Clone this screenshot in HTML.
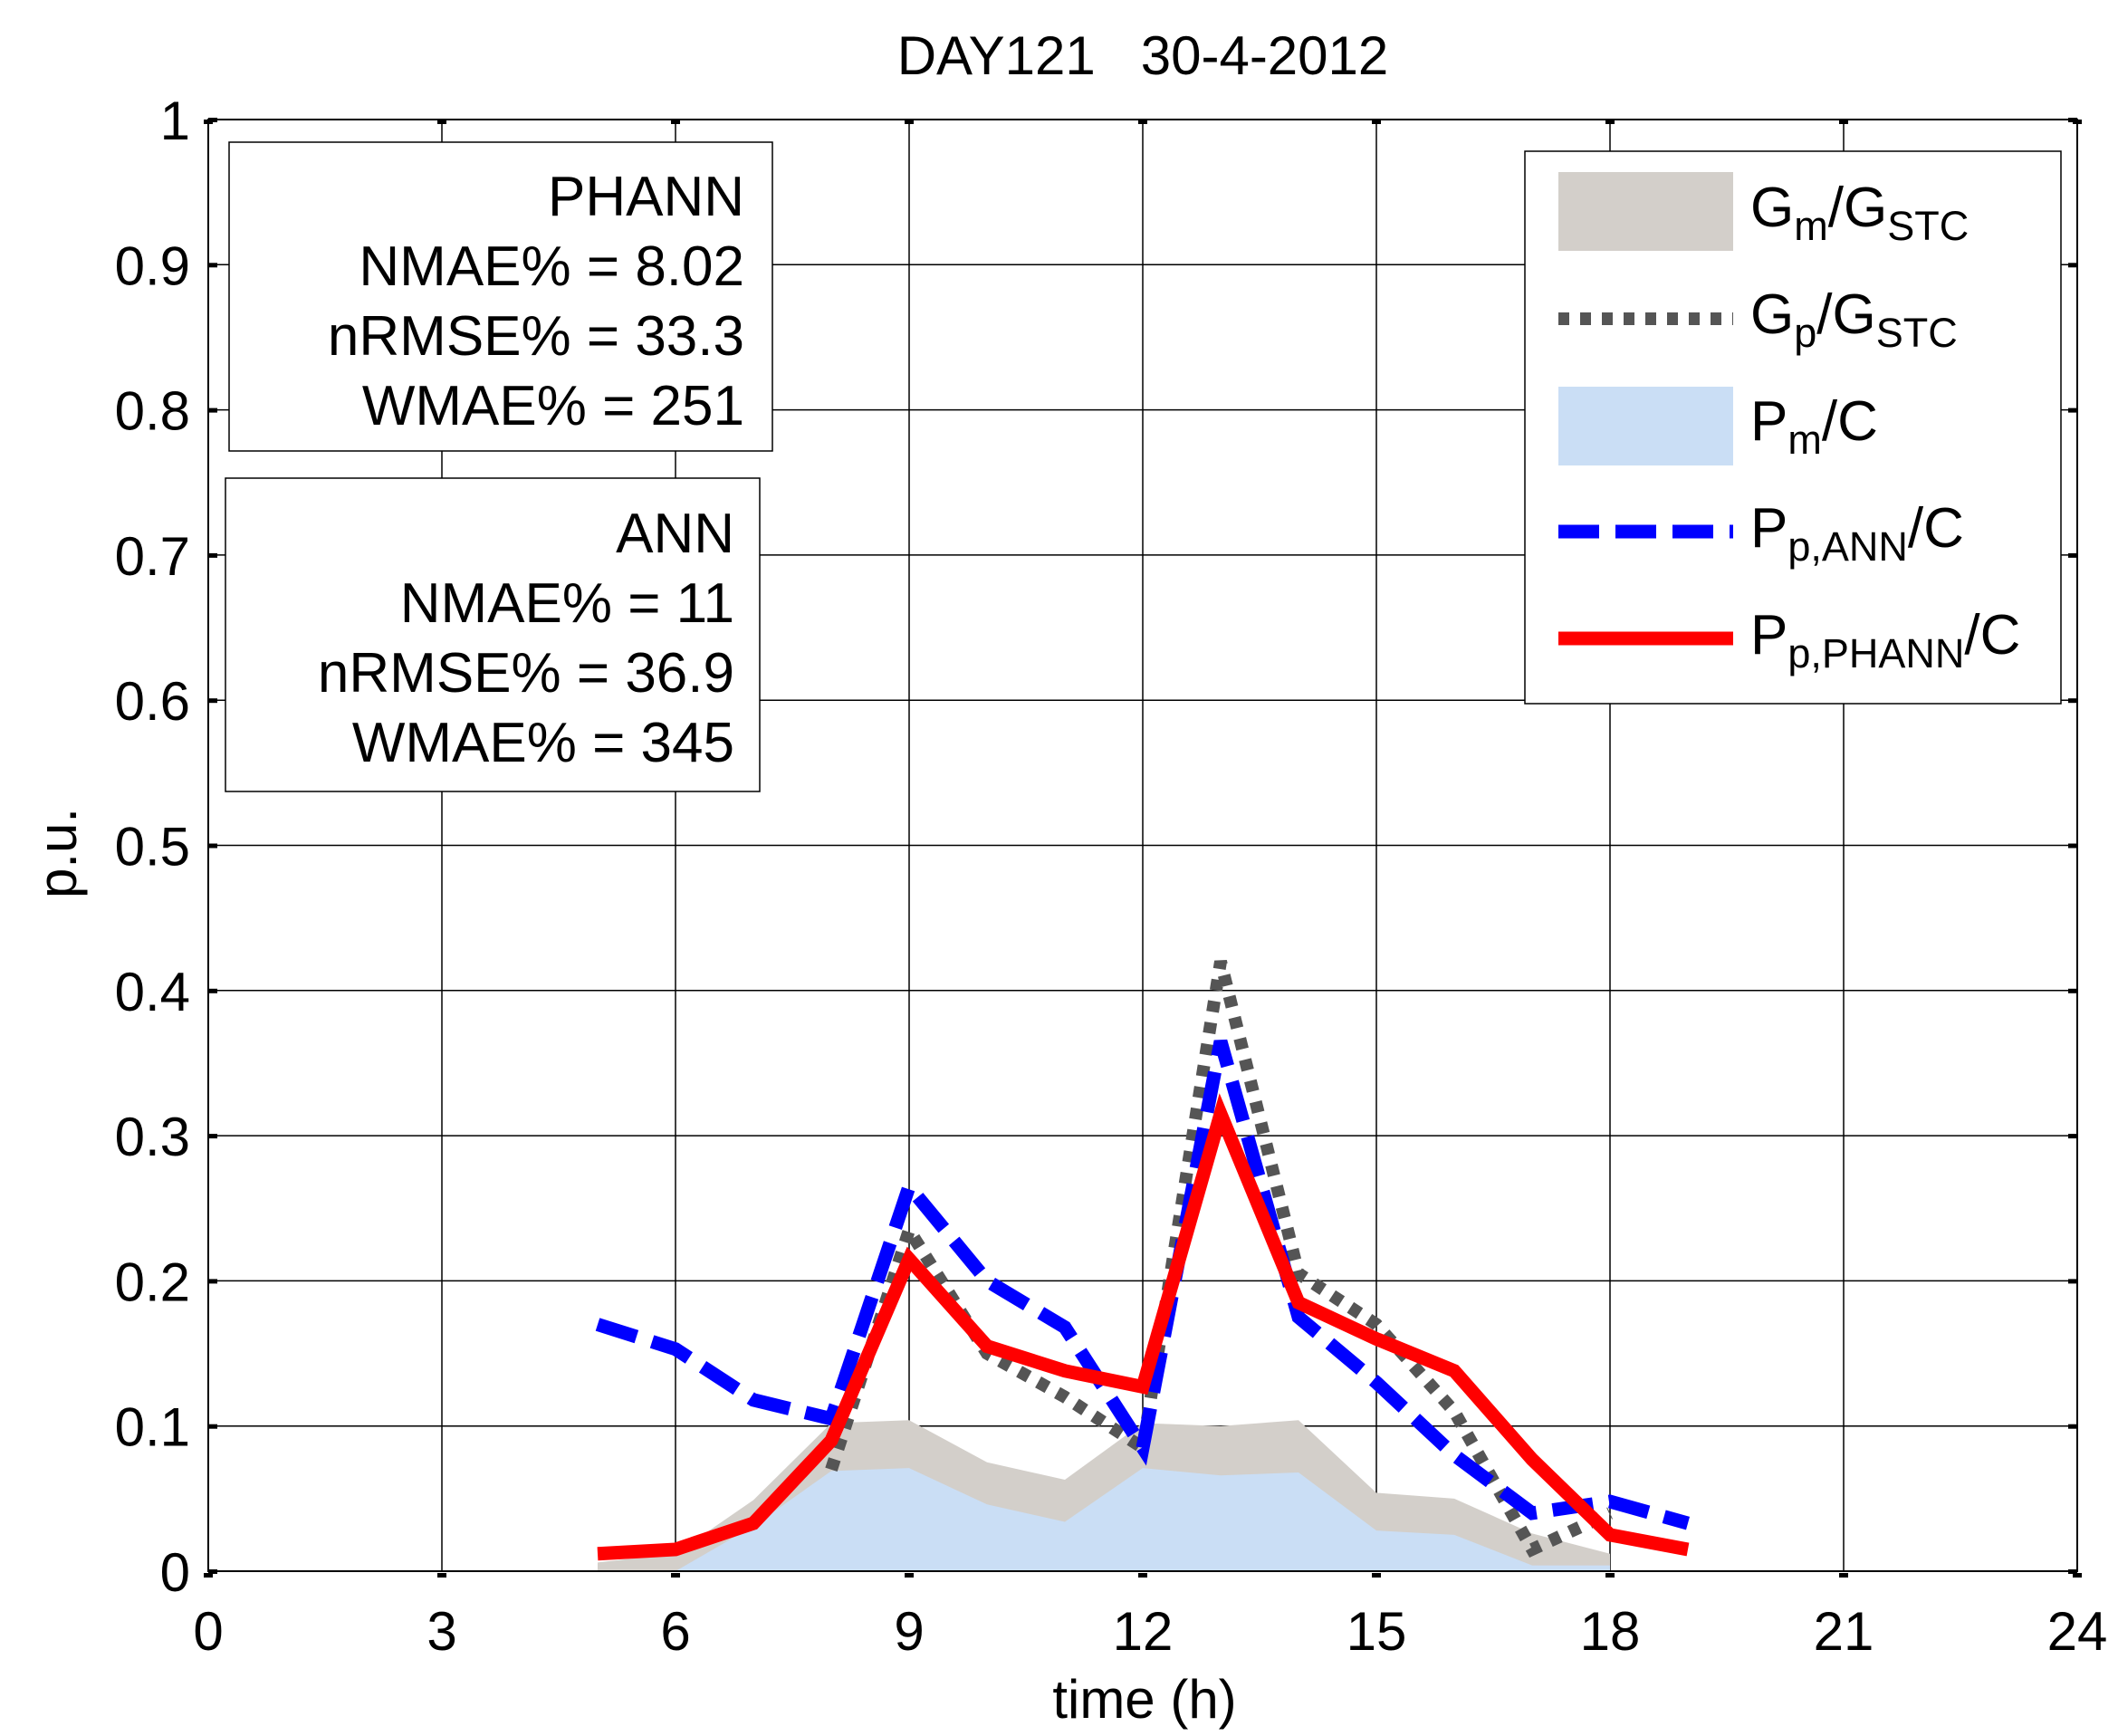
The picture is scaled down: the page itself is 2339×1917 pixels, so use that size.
<!DOCTYPE html>
<html><head><meta charset="utf-8"><style>
html,body{margin:0;padding:0;background:#fff}
svg{display:block;font-family:"Liberation Sans",Arial,sans-serif}
</style></head><body>
<svg id="chart" width="2339" height="1917" viewBox="0 0 2339 1917" xmlns="http://www.w3.org/2000/svg">
<rect width="2339" height="1917" fill="#fff"/>
<g id="grid"></g>
<g id="series"></g>
<g id="axes"></g>
<text x="1262" y="82" font-size="60" text-anchor="middle" xml:space="preserve">DAY121   30-4-2012</text>
<text x="1264" y="1897" font-size="60" text-anchor="middle">time (h)</text>
<text transform="translate(84,942) rotate(-90)" font-size="60" text-anchor="middle">p.u.</text>

<g>
<rect x="253" y="157" width="600" height="341" fill="#fff" stroke="#000" stroke-width="1.5"/>
<g font-size="62" text-anchor="end">
<text x="822" y="238">PHANN</text>
<text x="822" y="315">NMAE% = 8.02</text>
<text x="822" y="392">nRMSE% = 33.3</text>
<text x="822" y="469">WMAE% = 251</text>
</g></g>
<g>
<rect x="249" y="528" width="590" height="346" fill="#fff" stroke="#000" stroke-width="1.5"/>
<g font-size="62" text-anchor="end">
<text x="811" y="610">ANN</text>
<text x="811" y="687">NMAE% = 11</text>
<text x="811" y="764">nRMSE% = 36.9</text>
<text x="811" y="841">WMAE% = 345</text>
</g></g>

<g>
<rect x="1684" y="167" width="592" height="610" fill="#fff" stroke="#000" stroke-width="1.5"/>
<rect x="1721" y="190" width="193" height="87" fill="#d3cfca"/>
<line x1="1721" y1="352" x2="1914" y2="352" stroke="#555" stroke-width="14" stroke-dasharray="12 12"/>
<rect x="1721" y="427" width="193" height="87" fill="#cadef5"/>
<line x1="1721" y1="587" x2="1914" y2="587" stroke="#0000ff" stroke-width="15" stroke-dasharray="45 18"/>
<line x1="1721" y1="705" x2="1914" y2="705" stroke="#ff0000" stroke-width="15"/>
<g font-size="62">
<text x="1933" y="250">G<tspan font-size="45" dy="15">m</tspan><tspan dy="-15">/G</tspan><tspan font-size="45" dy="15">STC</tspan></text>
<text x="1933" y="368">G<tspan font-size="45" dy="15">p</tspan><tspan dy="-15">/G</tspan><tspan font-size="45" dy="15">STC</tspan></text>
<text x="1933" y="486">P<tspan font-size="45" dy="15">m</tspan><tspan dy="-15">/C</tspan></text>
<text x="1933" y="604">P<tspan font-size="45" dy="15">p,ANN</tspan><tspan dy="-15">/C</tspan></text>
<text x="1933" y="722">P<tspan font-size="45" dy="15">p,PHANN</tspan><tspan dy="-15">/C</tspan></text>
</g></g>
</svg>
<script>
const hoursFill = [5,6,7,8,9,10,11,12,13,14,15,16,17,18];
const gmValues = [0.006,0.012,0.049,0.102,0.104,0.075,0.063,0.102,0.1,0.104,0.054,0.05,0.026,0.012];
const pmValues = [0,0,0.031,0.069,0.071,0.046,0.034,0.071,0.066,0.068,0.028,0.025,0.004,0.004];
const hoursGp = [8,9,10,11,12,13,14,15,16,17,18];
const gpValues = [0.07,0.235,0.15,0.12,0.085,0.42,0.205,0.17,0.11,0.015,0.04];
const hoursPred = [5,6,7,8,9,10,11,12,13,14,15,16,17,18,19];
const annValues = [0.17,0.153,0.118,0.105,0.265,0.2,0.168,0.085,0.365,0.175,0.13,0.08,0.04,0.048,0.033];
const phannValues = [0.012,0.015,0.033,0.09,0.215,0.155,0.138,0.127,0.315,0.185,0.16,0.138,0.077,0.025,0.015];
const xTicks = [0,3,6,9,12,15,18,21,24];
const yTicks = [0,0.1,0.2,0.3,0.4,0.5,0.6,0.7,0.8,0.9,1];
const yTickLabels = ["0","0.1","0.2","0.3","0.4","0.5","0.6","0.7","0.8","0.9","1"];

const L=230,R=2294,T=132,B=1735;
const xs = v => L + (v/24)*(R-L);
const ys = v => B - v*(B-T);
const NS="http://www.w3.org/2000/svg";
function mk(tag, attrs, parent){const e=document.createElementNS(NS,tag);for(const k in attrs)e.setAttribute(k,attrs[k]);parent.appendChild(e);return e;}
const grid=document.getElementById('grid'), ser=document.getElementById('series'), ax=document.getElementById('axes');

xTicks.forEach(t=>{
  const g=mk('line',{x1:xs(t),y1:T,x2:xs(t),y2:B,stroke:'#000','stroke-width':1.5},grid);
  
  
  const lb=mk('text',{x:xs(t),y:1822,'font-size':60,'text-anchor':'middle'},ax);
  lb.textContent=t;
  
  
  mk('rect',{x:xs(t)-5,y:B+2,width:10,height:5,fill:'#000'},ax);
  mk('rect',{x:xs(t)-5,y:T,width:10,height:5,fill:'#000'},ax);
});
yTicks.forEach((t,i)=>{
  const g=mk('line',{x1:L,y1:ys(t),x2:R,y2:ys(t),stroke:'#000','stroke-width':1.5},grid);
  
  
  const lb=mk('text',{x:210,y:ys(t)+22,'font-size':60,'text-anchor':'end'},ax);
  lb.textContent=yTickLabels[i];
  
  
  mk('rect',{x:L,y:ys(t)-2,width:10,height:5,fill:'#000'},ax);
  mk('rect',{x:R-10,y:ys(t)-2,width:10,height:5,fill:'#000'},ax);
});

function areaPath(xsArr, vals){
  let d='M'+xs(xsArr[0])+','+ys(0);
  xsArr.forEach((h,i)=>{d+=' L'+xs(h)+','+ys(vals[i]);});
  d+=' L'+xs(xsArr[xsArr.length-1])+','+ys(0)+' Z';
  return d;
}
function linePts(xsArr, vals){return xsArr.map((h,i)=>xs(h)+','+ys(vals[i])).join(' ');}

const gm=mk('path',{d:areaPath(hoursFill,gmValues),fill:'#d3cfca'},ser);


const pm=mk('path',{d:areaPath(hoursFill,pmValues),fill:'#cadef5'},ser);


const gp=mk('polyline',{points:linePts(hoursGp,gpValues),fill:'none',stroke:'#555','stroke-width':14,'stroke-dasharray':'12 12'},ser);


const ann=mk('polyline',{points:linePts(hoursPred,annValues),fill:'none',stroke:'#0000ff','stroke-width':15,'stroke-dasharray':'45 18'},ser);


const ph=mk('polyline',{points:linePts(hoursPred,phannValues),fill:'none',stroke:'#ff0000','stroke-width':15,'stroke-linejoin':'miter'},ser);



const frame=mk('rect',{x:L,y:T,width:R-L,height:B-T,fill:'none',stroke:'#000','stroke-width':2},ax);


</script>
</body></html>
